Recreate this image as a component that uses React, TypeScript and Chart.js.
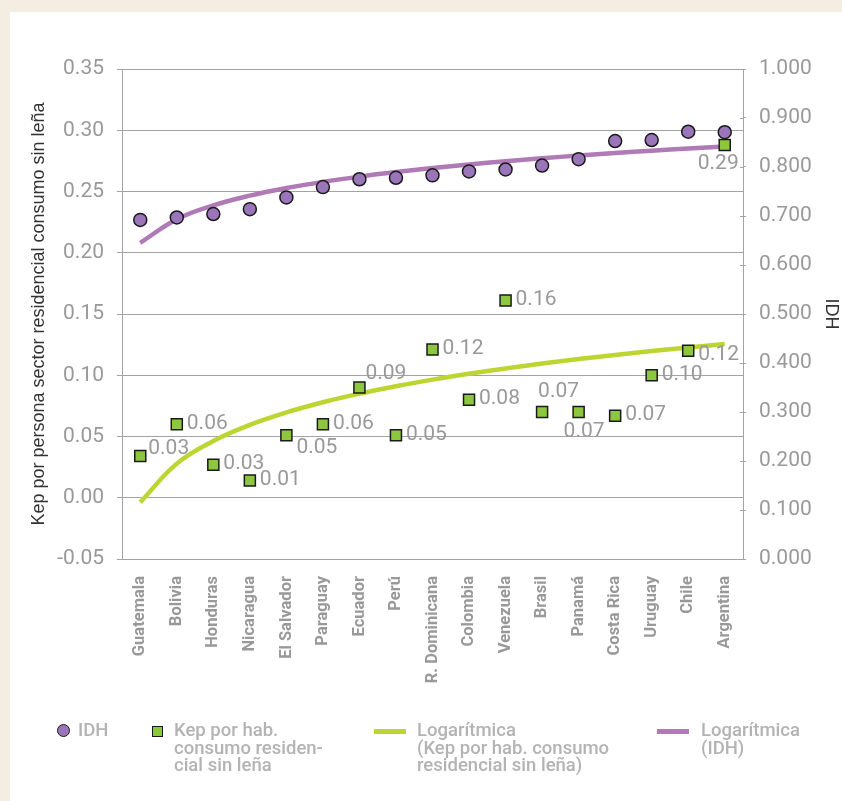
import React, { useEffect, useRef } from 'react';
import { Chart, registerables } from 'chart.js';

Chart.register(...registerables);

const countries = [
  'Guatemala', 'Bolivia', 'Honduras', 'Nicaragua', 'El Salvador', 'Paraguay', 'Ecuador', 'Perú',
  'R. Dominicana', 'Colombia', 'Venezuela', 'Brasil', 'Panamá', 'Costa Rica', 'Uruguay', 'Chile', 'Argentina',
];

const idh = [0.692, 0.697, 0.704, 0.714, 0.738, 0.759, 0.775, 0.778, 0.783, 0.791, 0.795, 0.803, 0.816, 0.853, 0.855, 0.872, 0.871];

const kep = [0.034, 0.060, 0.027, 0.014, 0.051, 0.060, 0.090, 0.051, 0.121, 0.080, 0.161, 0.070, 0.070, 0.067, 0.100, 0.120, 0.288];

// where each value label sits relative to its square
const kepLabelPlacement = ['ru', 'r', 'r', 'r', 'rd', 'r', 'ur', 'r', 'r', 'r', 'r', 'u', 'd', 'r', 'r', 'rl', 'dl'];

const LABEL_OFFSETS: Record<string, [number, number]> = {
  r: [10, -1],
  rl: [10, 4],
  ru: [8, -7],
  rd: [10, 12],
  ur: [6, -14],
  u: [-4, -20],
  d: [-15, 20],
  dl: [-27, 19],
};

const TICK_FONT = "Roboto, 'Liberation Sans', sans-serif";
const SANS = "'Liberation Sans', Arial, sans-serif";
const LEGEND_FONT = "Roboto, 'Liberation Sans', sans-serif";

const GREEN_FILL = '#8dc63f';
const GREEN_LINE = '#bdd531';
const PURPLE_FILL = '#9a75b9';
const PURPLE_LINE = '#b07ab6';
const GRID = '#a3a3a3';
const TICK_TEXT = '#999999';

function logFit(values: number[]): number[] {
  const xs = values.map((_, i) => Math.log(i + 1));
  const n = values.length;
  const mx = xs.reduce((a, b) => a + b, 0) / n;
  const my = values.reduce((a, b) => a + b, 0) / n;
  let sxy = 0;
  let sxx = 0;
  for (let i = 0; i < n; i++) {
    sxy += (xs[i] - mx) * (values[i] - my);
    sxx += (xs[i] - mx) * (xs[i] - mx);
  }
  const b = sxy / sxx;
  const a = my - b * mx;
  return xs.map((x) => a + b * x);
}

function fmt(v: any, digits: number) {
  const n = Number(v);
  return (Math.abs(n) < 1e-9 ? 0 : n).toFixed(digits);
}

const labelPlugin = {
  id: 'valueLabels',
  afterDatasetsDraw(chart: any) {
    const ctx = chart.ctx;
    const meta = chart.getDatasetMeta(1);
    ctx.save();
    ctx.font = `21px ${TICK_FONT}`;
    ctx.fillStyle = TICK_TEXT;
    ctx.textBaseline = 'middle';
    ctx.textAlign = 'left';
    meta.data.forEach((pt: any, i: number) => {
      const [dx, dy] = LABEL_OFFSETS[kepLabelPlacement[i]];
      ctx.fillText(kep[i].toFixed(2), pt.x + dx, pt.y + dy);
    });
    // inner half of the right-axis tick marks
    const y1 = chart.scales.y1;
    ctx.strokeStyle = GRID;
    ctx.lineWidth = 1;
    y1.ticks.forEach((_: any, i: number) => {
      const y = Math.round(y1.getPixelForTick(i)) + 0.5;
      ctx.beginPath();
      ctx.moveTo(y1.left - 3, y);
      ctx.lineTo(y1.left, y);
      ctx.stroke();
    });
    ctx.restore();
  },
};

export default function App() {
  const canvasRef = useRef<HTMLCanvasElement | null>(null);

  useEffect(() => {
    if (!canvasRef.current) return;
    const chart = new Chart(canvasRef.current, {
      type: 'line',
      data: {
        labels: countries,
        datasets: [
          {
            label: 'IDH',
            data: idh,
            yAxisID: 'y1',
            showLine: false,
            pointStyle: 'circle',
            pointRadius: 6.5,
            pointBackgroundColor: PURPLE_FILL,
            pointBorderColor: '#1a1a1a',
            pointBorderWidth: 1.5,
            order: 1,
          },
          {
            label: 'Kep por hab. consumo residencial sin leña',
            data: kep,
            yAxisID: 'y',
            showLine: false,
            pointStyle: 'rect',
            pointRadius: 7.8,
            pointBackgroundColor: GREEN_FILL,
            pointBorderColor: '#1a1a1a',
            pointBorderWidth: 1.5,
            order: 0,
          },
          {
            label: 'Logarítmica (Kep por hab. consumo residencial sin leña)',
            data: logFit(kep),
            yAxisID: 'y',
            borderColor: GREEN_LINE,
            borderWidth: 4.5,
            pointRadius: 0,
            tension: 0.4,
            order: 3,
          },
          {
            label: 'Logarítmica (IDH)',
            data: logFit(idh),
            yAxisID: 'y1',
            borderColor: PURPLE_LINE,
            borderWidth: 4.5,
            pointRadius: 0,
            tension: 0.4,
            order: 2,
          },
        ],
      },
      options: {
        responsive: false,
        animation: false,
        devicePixelRatio: 1,
        layout: { padding: { top: 69, left: 0, right: 0, bottom: 0 } },
        plugins: {
          legend: { display: false },
          tooltip: { enabled: false },
        },
        scales: {
          x: {
            type: 'category',
            offset: true,
            grid: { display: false, drawTicks: false },
            border: { display: true, color: GRID },
            ticks: {
              autoSkip: false,
              minRotation: 90,
              maxRotation: 90,
              padding: 17,
              color: TICK_TEXT,
              font: { family: TICK_FONT, size: 16.5, weight: 'bold' },
            },
            afterFit: (s: any) => {
              s.height = 242;
            },
          },
          y: {
            position: 'left',
            min: -0.05,
            max: 0.35,
            ticks: {
              stepSize: 0.05,
              padding: 13,
              color: TICK_TEXT,
              font: { family: TICK_FONT, size: 21 },
              callback: (v: any) => fmt(v, 2),
            },
            grid: { color: GRID, lineWidth: 1, tickLength: 5 },
            border: { color: GRID },
            title: {
              display: true,
              text: 'Kep por persona sector residencial consumo sin leña',
              color: '#333333',
              font: { family: SANS, size: 18 },
              padding: { top: 28, bottom: 0 },
            },
            afterFit: (s: any) => {
              s.width = 122;
            },
          },
          y1: {
            position: 'right',
            min: 0,
            max: 1,
            ticks: {
              stepSize: 0.1,
              padding: 13,
              color: TICK_TEXT,
              font: { family: TICK_FONT, size: 21 },
              callback: (v: any) => fmt(v, 3),
            },
            grid: { drawOnChartArea: false, color: GRID, tickLength: 3 },
            border: { color: GRID },
            title: {
              display: true,
              text: 'IDH',
              color: '#333333',
              font: { family: SANS, size: 18 },
              padding: { top: 0, bottom: 0 },
            },
            afterFit: (s: any) => {
              s.width = 99;
            },
          },
        },
      },
      plugins: [labelPlugin],
    } as any);
    return () => chart.destroy();
  }, []);

  const legendText: React.CSSProperties = {
    position: 'absolute',
    fontFamily: LEGEND_FONT,
    fontWeight: 500,
    fontSize: 18.5,
    lineHeight: '17.5px',
    color: '#b3b3b3',
    whiteSpace: 'nowrap',
    top: 722,
  };

  return (
    <div style={{ position: 'absolute', left: 0, top: 0, width: 842, height: 801, background: '#f3ede2', overflow: 'hidden' }}>
      <div style={{ position: 'absolute', left: 10, top: 12, right: 0, bottom: 0, background: '#ffffff' }} />
      <canvas ref={canvasRef} width={842} height={801} style={{ position: 'absolute', left: 0, top: 0, width: 842, height: 801 }} />
      {/* legend */}
      <div style={{ position: 'absolute', left: 57, top: 724, width: 11, height: 11, borderRadius: '50%', background: PURPLE_FILL, border: '1.5px solid #1a1a1a' }} />
      <div style={{ ...legendText, left: 78 }}>IDH</div>
      <div style={{ position: 'absolute', left: 151.5, top: 725.5, width: 9, height: 9, background: GREEN_FILL, border: '1.5px solid #1a1a1a' }} />
      <div style={{ ...legendText, left: 174 }}>Kep por hab.<br />consumo residen-<br />cial sin leña</div>
      <div style={{ position: 'absolute', left: 374, top: 729, width: 32, height: 5, background: GREEN_LINE }} />
      <div style={{ ...legendText, left: 417 }}>Logarítmica<br />(Kep por hab. consumo<br />residencial sin leña)</div>
      <div style={{ position: 'absolute', left: 657, top: 729, width: 32, height: 5, background: PURPLE_LINE }} />
      <div style={{ ...legendText, left: 701 }}>Logarítmica<br />(IDH)</div>
    </div>
  );
}
